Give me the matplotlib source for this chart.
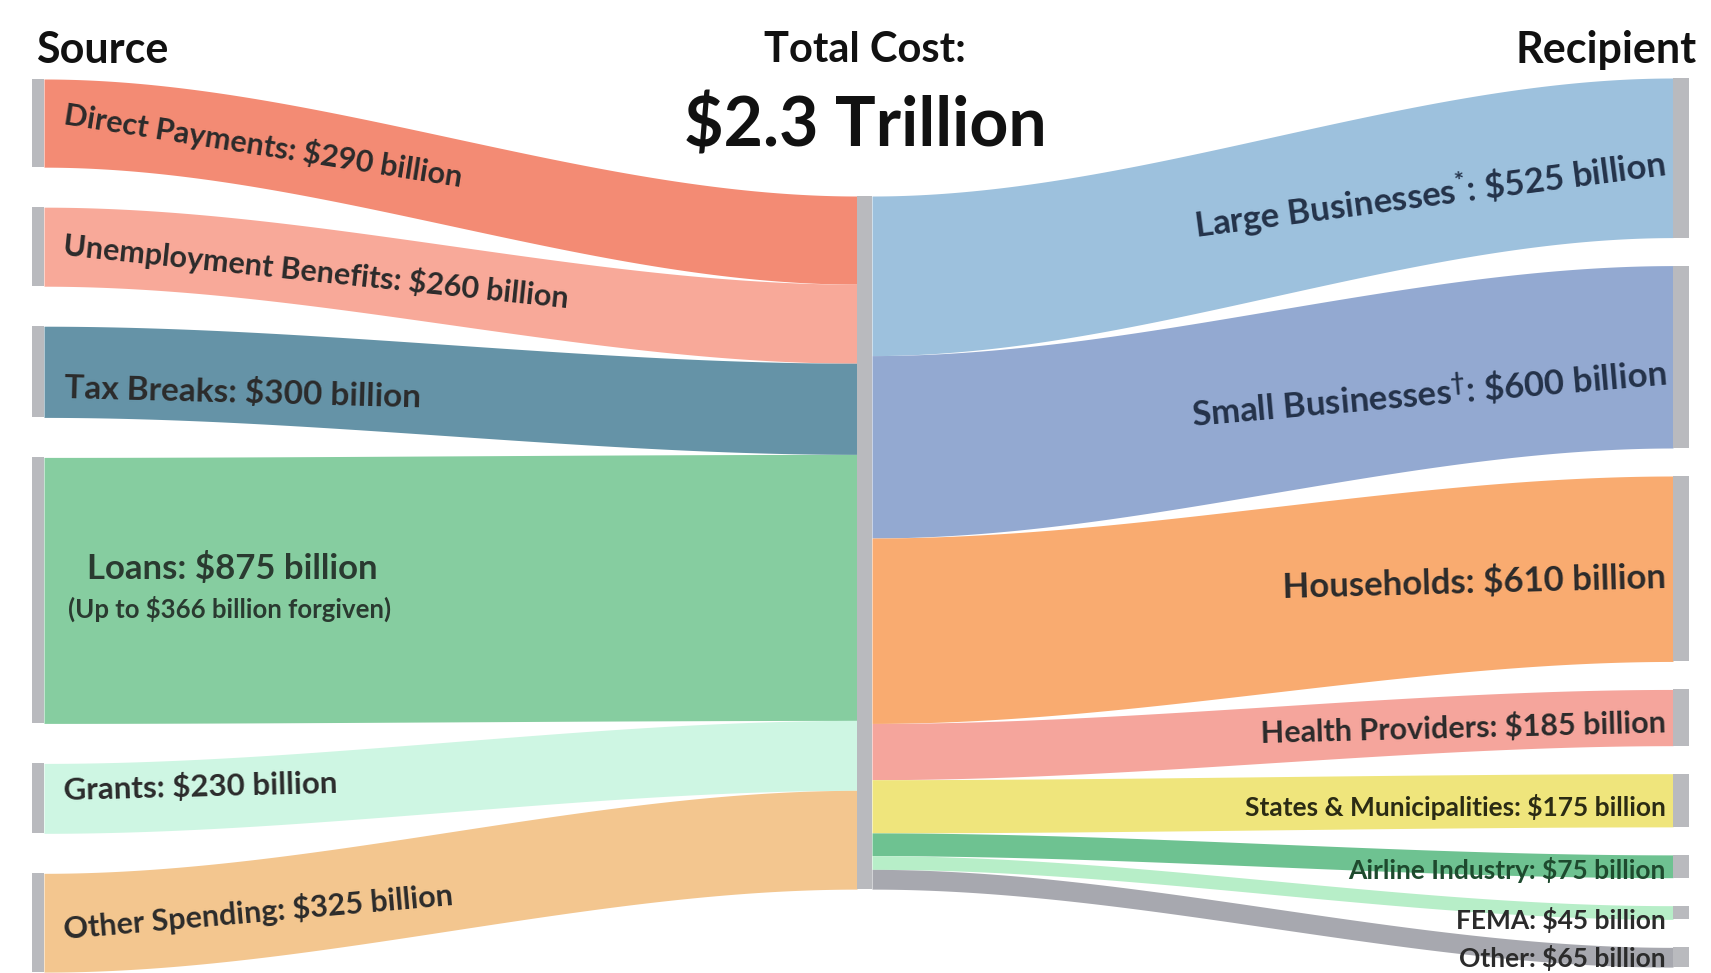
import matplotlib.pyplot as plt
import numpy as np

plt.rcParams['font.family'] = ['Lato', 'DejaVu Sans']
plt.rcParams['mathtext.fontset'] = 'custom'
plt.rcParams['mathtext.rm'] = 'Lato:bold'
plt.rcParams['mathtext.it'] = 'Lato:bold'
plt.rcParams['mathtext.bf'] = 'Lato:bold'

# sources of the money (billions of dollars)
sources = ["Direct Payments", "Unemployment Benefits", "Tax Breaks", "Loans", "Grants", "Other Spending"]
source_values = [290, 260, 300, 875, 230, 325]
source_colors = ["#F38B74", "#F8A999", "#6593A7", "#86CDA0", "#CEF6E3", "#F3C68F"]

# where the money goes (billions of dollars)
recipients = ["Large Businesses", "Small Businesses", "Households", "Health Providers",
              "States & Municipalities", "Airline Industry", "FEMA", "Other"]
recipient_marks = ["$^{*}$", "$^{\\dagger}$", "", "", "", "", "", ""]
recipient_values = [525, 600, 610, 185, 175, 75, 45, 65]
recipient_colors = ["#9DC1DD", "#93A9D1", "#F9AB70", "#F5A59C", "#EFE57C", "#6EC291", "#B7EEC8", "#A7A8AF"]

loan_note = "(Up to \\$366 billion forgiven)"
total_label = "\\$2.3 Trillion"

# layout in pixels, values drawn at PX pixels per billion
W, H = 1711, 973
PX = 0.304
left_bar = (32, 44)
mid_bar = (857, 872)
right_bar = (1673, 1689)
left_top, left_gap = 79 / PX, 40 / PX
mid_top = 196 / PX
right_top, right_gap = 78 / PX, 28 / PX
bar_gray = "#B9BABE"


def stack(values, top, gap):
    values = np.asarray(values, dtype=float)
    starts = top + np.concatenate([[0], np.cumsum(values[:-1] + gap)])
    return starts, starts + values


def flow(ax, xa, xb, a0, a1, b0, b1, color):
    t = np.linspace(0, 1, 200)
    s = 3 * t ** 2 - 2 * t ** 3
    x = xa + (xb - xa) * t
    ax.fill_between(x, a0 + (b0 - a0) * s, a1 + (b1 - a1) * s, color=color, lw=0)


fig = plt.figure(figsize=(W / 100, H / 100), dpi=100)
ax = fig.add_axes([0, 0, 1, 1])
ax.set_xlim(0, W)
ax.set_ylim(H / PX, 0)
ax.axis("off")

src_top, src_bot = stack(source_values, left_top, left_gap)
mid_l_top, mid_l_bot = stack(source_values, mid_top, 0)
rec_top, rec_bot = stack(recipient_values, right_top, right_gap)
mid_r_top, mid_r_bot = stack(recipient_values, mid_top, 0)

for i in range(len(sources)):
    flow(ax, left_bar[1], mid_bar[0], src_top[i], src_bot[i], mid_l_top[i], mid_l_bot[i], source_colors[i])
    ax.fill_between(left_bar, src_top[i], src_bot[i], color=bar_gray, lw=0)

for i in range(len(recipients)):
    flow(ax, mid_bar[1], right_bar[0], mid_r_top[i], mid_r_bot[i], rec_top[i], rec_bot[i], recipient_colors[i])
    ax.fill_between(right_bar, rec_top[i], rec_bot[i], color=bar_gray, lw=0)

ax.fill_between(mid_bar, mid_l_top[0], mid_l_bot[-1], color=bar_gray, lw=0)

# source labels: (pixel offset from node centre, rotation, size)
src_style = [(-9, -9, 22), (-2, -6, 22), (16, -1.5, 24), (-22, 0, 25), (-8, 1.5, 22.5), (6, 5, 22)]
for i, name in enumerate(sources):
    dy, rot, size = src_style[i]
    yc = (src_top[i] + src_bot[i]) / 2 + dy / PX
    label = f"{name}: \\${source_values[i]} billion"
    if name == "Loans":
        ax.text(232, yc, label, ha="center", va="center", fontsize=size,
                fontweight="bold", color="#2A3A30")
        ax.text(230, yc + 40 / PX, loan_note, ha="center", va="center", fontsize=18.5,
                fontweight="bold", color="#2A3A30")
    else:
        ax.text(64, yc, label, ha="left", va="center", rotation=rot, rotation_mode="anchor",
                fontsize=size, fontweight="bold", color="#2B2B2B")

# recipient labels
rec_style = [(6, 7.5, 25, "#243249"), (16, 5, 25, "#243249"), (9, 1.5, 25, "#2B2B2B"),
             (5, 1.5, 22, "#2B2B2B"), (7, 0, 19, "#2B2B14"), (4, 0, 19, "#1E4A2E"),
             (7, 0, 19, "#2B2B2B"), (1, 0, 19, "#2B2B2B")]
for i, name in enumerate(recipients):
    dy, rot, size, col = rec_style[i]
    yc = (rec_top[i] + rec_bot[i]) / 2 + dy / PX
    label = f"{name}{recipient_marks[i]}: \\${recipient_values[i]} billion"
    ax.text(1666, yc, label, ha="right", va="center", rotation=rot, rotation_mode="anchor",
            fontsize=size, fontweight="bold", color=col)

ax.text(36, 50 / PX, "Source", ha="left", va="center", fontsize=31, fontweight="bold", color="#111111")
ax.text(1697, 50 / PX, "Recipient", ha="right", va="center", fontsize=31, fontweight="bold", color="#111111")
ax.text(865, 50 / PX, "Total Cost:", ha="center", va="center", fontsize=30, fontweight="bold", color="#111111")
ax.text(865, 126 / PX, total_label, ha="center", va="center", fontsize=49, fontweight="bold", color="#111111")

fig.savefig("out.png", dpi=100)
